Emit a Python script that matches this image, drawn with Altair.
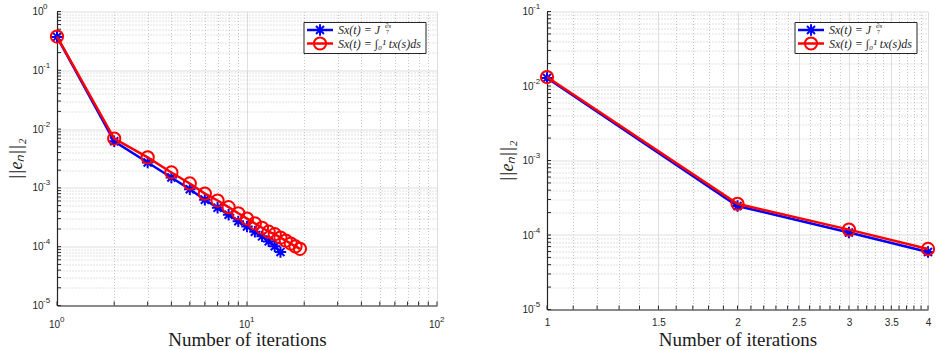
import altair as alt
import pandas as pd

# ---------------- data ----------------
left_iter_blue = list(range(1, 16))
left_err_blue = [0.37, 0.0062, 0.0027, 0.0015, 0.00095, 0.00063, 0.00046, 0.00035,
                 0.00027, 0.00022, 0.00018, 0.00015, 0.000123, 0.000102, 0.000081]
left_iter_red = list(range(1, 20))
left_err_red = [0.375, 0.0069, 0.0033, 0.00183, 0.00119, 0.0008, 0.00061, 0.00047,
                0.00037, 0.0003, 0.00025, 0.00021, 0.00018, 0.000163, 0.000143,
                0.000127, 0.000113, 0.000101, 0.000092]

right_iter_blue = [1, 2, 3, 4]
right_err_blue = [0.0128, 0.000245, 0.000108, 0.000059]
right_iter_red = [1, 2, 3, 4]
right_err_red = [0.0132, 0.000262, 0.000118, 0.000065]

# tick values / labels (base "10" + exponent drawn as a raised text)
left_x_major = [1, 10, 100]
left_x_major_labels = ["10", "10", "10"]
left_x_exponents = ["0", "1", "2"]
left_x_minor = [2, 3, 4, 5, 6, 7, 8, 9, 20, 30, 40, 50, 60, 70, 80, 90]

left_y_major = [1e-05, 0.0001, 0.001, 0.01, 0.1, 1]
left_y_major_labels = ["10", "10", "10", "10", "10", "10"]
left_y_exponents = ["-5", "-4", "-3", "-2", "-1", "0"]

right_x_major = [1, 1.5, 2, 2.5, 3, 3.5, 4]
right_x_major_labels = ["1", "1.5", "2", "2.5", "3", "3.5", "4"]
right_x_minor = [1.1, 1.2, 1.3, 1.4, 1.6, 1.7, 1.8, 1.9, 2.1, 2.2, 2.3, 2.4, 2.6, 2.7,
                 2.8, 2.9, 3.1, 3.2, 3.3, 3.4, 3.6, 3.7, 3.8, 3.9]

right_y_major = [1e-05, 0.0001, 0.001, 0.01, 0.1]
right_y_major_labels = ["10", "10", "10", "10", "10"]
right_y_exponents = ["-5", "-4", "-3", "-2", "-1"]

legend_row1 = "Sx(t) = J"
legend_row1_sup = "∂s"
legend_row1_sub = "7"
legend_row2 = "Sx(t) = ∫₀¹ tx(s)ds"

x_title = "Number of iterations"
y_title = "||eₙ||₂"

# ---------------- style ----------------
BLUE = "#0000ff"
RED = "#ff0000"
AXC = "#262626"
MAJ_GRID = "#dedede"
MIN_GRID = "#c4c4c4"
ASTERISK = "M0,-1L0,1M-1,0L1,0M-0.7,-0.7L0.7,0.7M-0.7,0.7L0.7,-0.7"
LABEL_FONT = "Liberation Sans"
SERIF = "Liberation Serif"


def minor_decades(lo_exp, hi_exp):
    vals = []
    for e in range(lo_exp, hi_exp):
        for m in range(2, 10):
            vals.append(float(f"{m}e{e}"))
    return vals


def label_expr(values, labels):
    s = ""
    for v, l in zip(values, labels):
        s += f"datum.value == {repr(v)} ? '{l}' : "
    return s + "''"


def major_test(values):
    return "indexof([" + ", ".join(repr(v) for v in values) + "], datum.value) >= 0"


def make_axis(major, major_labels, minor, orient, title, **kw):
    t = major_test(major)
    return alt.Axis(
        values=major + minor,
        labelExpr=label_expr(major, major_labels),
        orient=orient,
        title=title,
        grid=True,
        gridColor={"condition": {"test": t, "value": MAJ_GRID}, "value": MIN_GRID},
        gridDash={"condition": {"test": t, "value": []}, "value": [1, 2]},
        gridWidth=1,
        ticks=False,
        tickSize=0,
        domainColor=AXC,
        domainWidth=1.2,
        labelFont=LABEL_FONT,
        labelFontSize=10,
        labelColor=AXC,
        labelOverlap=False,
        labelFlush=False,
        labelBound=False,
        titleFont=SERIF,
        titleColor="#1a1a1a",
        titleFontWeight="normal",
        **kw,
    )


def panel(ib, eb, ir, er, W, H, x_major, x_major_labels, x_exps, x_minor, x_domain,
          y_major, y_major_labels, y_exps, y_minor, y_domain, ytitle_x, xtitle_y,
          x_label_pad, x_label_offset):
    x_axis = make_axis(x_major, x_major_labels, x_minor, "bottom", x_title,
                       labelPadding=x_label_pad, labelBaseline="middle",
                       labelAlign="center", labelOffset=x_label_offset,
                       titleFontSize=19, titleY=xtitle_y,
                       titleBaseline="alphabetic", titleX=W / 2, titleAlign="center")
    y_axis = make_axis(y_major, y_major_labels, y_minor, "left", y_title,
                       labelPadding=14, labelBaseline="middle", labelAlign="right",
                       titleFontSize=18, titleFontStyle="italic",
                       titleX=ytitle_x, titleY=H / 2, titleAngle=-90,
                       titleAlign="center", titleBaseline="middle")
    x_enc = alt.X("iter:Q", scale=alt.Scale(type="log", domain=x_domain, nice=False), axis=x_axis)
    y_enc = alt.Y("err:Q", scale=alt.Scale(type="log", domain=y_domain, nice=False), axis=y_axis)

    df_b = pd.DataFrame({"iter": ib, "err": eb})
    df_r = pd.DataFrame({"iter": ir, "err": er})
    df_xt = pd.DataFrame({"iter": x_major + x_minor})
    df_yt = pd.DataFrame({"err": y_major + y_minor})

    layers = []
    layers.append(alt.Chart(df_xt).mark_rule(color=AXC, strokeWidth=1).encode(
        x=x_enc, y=alt.value(H), y2=alt.value(H - 4)))
    layers.append(alt.Chart(df_yt).mark_rule(color=AXC, strokeWidth=1).encode(
        y=y_enc, x=alt.value(0), x2=alt.value(4)))

    # exponents of the "10" tick labels
    df_ye = pd.DataFrame({"err": y_major, "ex": y_exps})
    layers.append(alt.Chart(df_ye).mark_text(align="left", baseline="middle", dx=-14, dy=-4.5,
                                             font=LABEL_FONT, fontSize=8, color=AXC).encode(
        y=y_enc, x=alt.value(0), text="ex:N"))
    if x_exps:
        df_xe = pd.DataFrame({"iter": x_major, "ex": x_exps})
        layers.append(alt.Chart(df_xe).mark_text(align="left", baseline="middle", dx=3,
                                                 font=LABEL_FONT, fontSize=8, color=AXC).encode(
            x=x_enc, y=alt.value(H + 14.5), text="ex:N"))

    layers.append(alt.Chart(df_b).mark_line(color=BLUE, strokeWidth=2.5).encode(x=x_enc, y=y_enc))
    layers.append(alt.Chart(df_b).mark_point(shape=ASTERISK, filled=False, color=BLUE, strokeWidth=2,
                                             size=130, opacity=1).encode(x=x_enc, y=y_enc))
    layers.append(alt.Chart(df_r).mark_line(color=RED, strokeWidth=2.5).encode(x=x_enc, y=y_enc))
    layers.append(alt.Chart(df_r).mark_point(shape="circle", filled=False, color=RED, strokeWidth=2,
                                             size=150, opacity=1).encode(x=x_enc, y=y_enc))

    # custom legend
    one = pd.DataFrame({"k": [0]})
    bx0, bx1, by0, by1 = W - 133, W - 11, 11, 42
    r1, r2 = 18.5, 32
    lx0, lx1, lm, tx = W - 130, W - 104, W - 117, W - 99
    layers.append(alt.Chart(one).mark_rect(fill="white", stroke=AXC, strokeWidth=1).encode(
        x=alt.value(bx0), x2=alt.value(bx1), y=alt.value(by0), y2=alt.value(by1)))
    layers.append(alt.Chart(one).mark_rule(color=BLUE, strokeWidth=2.5).encode(
        x=alt.value(lx0), x2=alt.value(lx1), y=alt.value(r1)))
    layers.append(alt.Chart(one).mark_point(shape=ASTERISK, filled=False, color=BLUE, strokeWidth=2,
                                            size=130, opacity=1).encode(x=alt.value(lm), y=alt.value(r1)))
    layers.append(alt.Chart(one).mark_rule(color=RED, strokeWidth=2.5).encode(
        x=alt.value(lx0), x2=alt.value(lx1), y=alt.value(r2)))
    layers.append(alt.Chart(one).mark_point(shape="circle", filled=False, color=RED, strokeWidth=2,
                                            size=150, opacity=1).encode(x=alt.value(lm), y=alt.value(r2)))
    layers.append(alt.Chart(one).mark_text(text=legend_row1, font=SERIF, fontStyle="italic", fontSize=12,
                                           align="left", baseline="middle", color=AXC).encode(
        x=alt.value(tx), y=alt.value(r1)))
    layers.append(alt.Chart(one).mark_text(text=legend_row1_sup, font=SERIF, fontStyle="italic", fontSize=7,
                                           align="left", baseline="middle", color=AXC).encode(
        x=alt.value(tx + 47), y=alt.value(r1 - 4)))
    layers.append(alt.Chart(one).mark_text(text=legend_row1_sub, font=SERIF, fontSize=6,
                                           align="left", baseline="middle", color=AXC).encode(
        x=alt.value(tx + 48), y=alt.value(r1 + 2)))
    layers.append(alt.Chart(one).mark_text(text=legend_row2, font=SERIF, fontStyle="italic", fontSize=12,
                                           align="left", baseline="middle", color=AXC).encode(
        x=alt.value(tx), y=alt.value(r2)))

    return alt.layer(*layers).properties(width=W, height=H)


left = panel(left_iter_blue, left_err_blue, left_iter_red, left_err_red, 380, 294,
             left_x_major, left_x_major_labels, left_x_exponents, left_x_minor, [1, 100],
             left_y_major, left_y_major_labels, left_y_exponents, minor_decades(-5, 0), [1e-05, 1],
             -41, 40, 18.5, -3)
right = panel(right_iter_blue, right_err_blue, right_iter_red, right_err_red, 381, 298,
              right_x_major, right_x_major_labels, None, right_x_minor, [1, 4],
              right_y_major, right_y_major_labels, right_y_exponents, minor_decades(-5, -1), [1e-05, 0.1],
              -40, 36, 13, 0)

chart = alt.hconcat(left, right, spacing=110, bounds="flush").properties(
    padding={"left": 7, "top": 2.5, "right": 0, "bottom": 0},
    background="white",
).configure_view(stroke=None)

chart.save("out.html", embed_options={"renderer": "svg", "actions": False})
